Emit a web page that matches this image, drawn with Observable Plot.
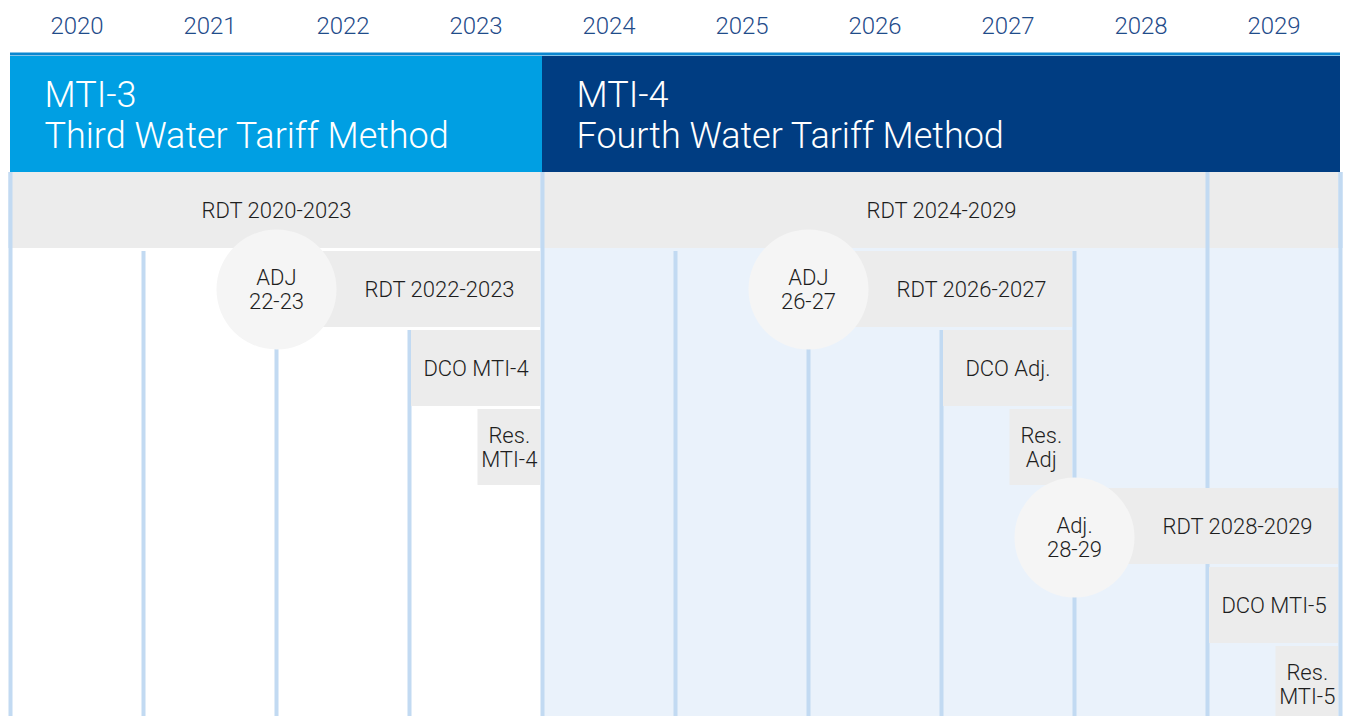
<!DOCTYPE html>
<html>
<head>
<meta charset="utf-8">
<script src="https://cdn.jsdelivr.net/npm/d3@7"></script>
<script src="https://cdn.jsdelivr.net/npm/@observablehq/plot@0.6"></script>
<style>
  html, body { margin: 0; padding: 0; background: #fff; }
  #chart svg { display: block; }
</style>
</head>
<body>
<div id="chart"></div>
<script>
// ---- Data ----
const years = [2020, 2021, 2022, 2023, 2024, 2025, 2026, 2027, 2028, 2029];

const methodNames  = ["MTI-3", "MTI-4"];
const methodTitles = ["Third Water Tariff Method", "Fourth Water Tariff Method"];
const methodStart  = [2020, 2024];
const methodEnd    = [2024, 2030];

const barLabels = ["RDT 2020-2023", "RDT 2024-2029", "RDT 2022-2023", "DCO MTI-4", "Res.\nMTI-4",
                   "RDT 2026-2027", "DCO Adj.", "Res.\nAdj", "RDT 2028-2029", "DCO MTI-5", "Res.\nMTI-5"];
const barStart  = [2020, 2024, 2022, 2023, 2023.5, 2026, 2027, 2027.5, 2028, 2029, 2029.5];
const barEnd    = [2024, 2030, 2024, 2024, 2024,   2028, 2028, 2028,   2030, 2030, 2030];
const barRow    = [1, 1, 2, 3, 4, 2, 3, 4, 5, 6, 7];
const barAfterAdj = [false, false, true, false, false, true, false, false, true, false, false];

const adjLabels = ["ADJ\n22-23", "ADJ\n26-27", "Adj.\n28-29"];
const adjYear   = [2022, 2026, 2028];
const adjRow    = [2, 2, 5.14];

// first row in which each year boundary line is visible
const boundaryYears = [2020, 2021, 2022, 2023, 2024, 2025, 2026, 2027, 2028, 2029, 2030];
const boundaryFirstRow = [1, 2, 2, 3, 1, 2, 2, 3, 2, 1, 1];

// ---- Tables ----
const methods = methodNames.map((n, i) => ({name: n, title: methodTitles[i], start: methodStart[i], end: methodEnd[i], i}));
const bars = barLabels.map((l, i) => ({label: l, start: barStart[i], end: barEnd[i], row: barRow[i], afterAdj: barAfterAdj[i]}));
const adjs = adjLabels.map((l, i) => ({label: l, year: adjYear[i], row: adjRow[i]}));
const bounds = boundaryYears.map((y, i) => ({year: y, first: boundaryFirstRow[i]}));

// ---- Layout constants (row units) ----
const ROW_PX = 79;
const BAR_H = 0.962;
const TOP_PX = 52, BODY_PX = 172, H = 716;
const Y_TOP = (TOP_PX - BODY_PX) / ROW_PX;
const Y_BOTTOM = (H - BODY_PX) / ROW_PX;
const Y_BAND = (56 - BODY_PX) / ROW_PX;
const rowTop = r => r - 1;
const rowMid = r => r - 1 + BAR_H / 2;

const bodyFill = ["#FFFFFF", "#EAF2FB"];
const bandFill = ["#009FE3", "#003D82"];
const gridColor = "#C2DAF2";
const barColor = "#ECECEC";
const textColor = "#1E1E1E";

const chart = Plot.plot({
  width: 1345,
  height: H,
  marginTop: TOP_PX,
  marginBottom: 0,
  marginLeft: 10,
  marginRight: 5,
  style: {fontFamily: "Roboto, 'Open Sans', sans-serif", fontSize: "22px", background: "white"},
  x: {domain: [2020, 2030]},
  y: {domain: [Y_TOP, Y_BOTTOM], reverse: true, axis: null},
  marks: [
    Plot.rect(methods, {x1: "start", x2: "end", y1: 0, y2: Y_BOTTOM, fill: d => bodyFill[d.i]}),
    Plot.ruleX(bounds, {x: "year", y1: d => rowTop(d.first), y2: Y_BOTTOM, stroke: gridColor, strokeWidth: 4}),
    Plot.rect(bars, {x1: "start", x2: "end", y1: d => rowTop(d.row), y2: d => rowTop(d.row) + BAR_H,
                     fill: barColor, insetLeft: 2, insetRight: 2}),
    Plot.ruleX(bounds.filter(d => d.first === 1), {x: "year", y1: 0, y2: BAR_H, stroke: gridColor, strokeWidth: 4}),
    Plot.dot(adjs, {x: "year", y: d => rowMid(d.row), r: 60, fill: "#F5F5F5"}),
    Plot.text(bars.filter(d => !d.afterAdj), {x: d => (d.start + d.end) / 2, y: d => rowMid(d.row), text: "label",
              fill: textColor, fontSize: 22, fontWeight: 300, lineHeight: 1.09}),
    Plot.text(bars.filter(d => d.afterAdj), {x: d => (d.start + d.end) / 2, y: d => rowMid(d.row), text: "label",
              dx: 30, fill: textColor, fontSize: 22, fontWeight: 300, lineHeight: 1.09}),
    Plot.text(adjs, {x: "year", y: d => rowMid(d.row), text: "label", fill: textColor, fontSize: 22, fontWeight: 300, lineHeight: 1.09}),
    Plot.rect(methods, {x1: "start", x2: "end", y1: Y_BAND, y2: 0, fill: d => bandFill[d.i]}),
    Plot.ruleY([Y_TOP + 1.5 / ROW_PX], {x1: 2020, x2: 2030, stroke: "#0B86CF", strokeWidth: 3}),
    Plot.text(methods, {x: "start", y: Y_BAND / 2, text: d => d.name + "\n" + d.title, textAnchor: "start",
              dx: 34, fill: "white", fontSize: 36, fontWeight: 300, lineHeight: 1.12}),
    Plot.axisX(years.map(y => y + 0.5), {anchor: "top", tickSize: 0, tickPadding: 19, label: null,
              tickFormat: d => String(Math.floor(d)), fontSize: 24, fontWeight: 300, fill: "#1F4C8A"})
  ]
});
document.getElementById("chart").appendChild(chart);
</script>
</body>
</html>
